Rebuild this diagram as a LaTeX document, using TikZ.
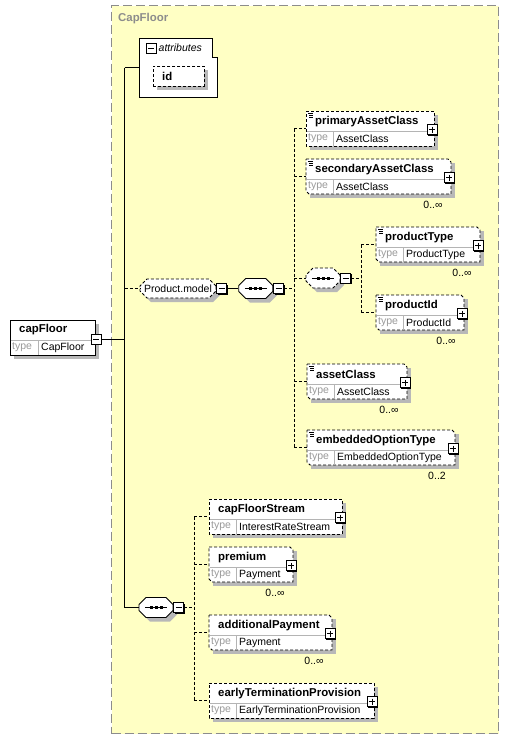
\documentclass[tikz,border=0pt]{standalone}
\usepackage{fontspec}
\setmainfont{Liberation Sans}
\usetikzlibrary{positioning,shapes.misc}

\definecolor{xs-gelb}{HTML}{FFFFC4}
\definecolor{xs-rahmen}{HTML}{8C8C8C}
\definecolor{xs-schatten}{HTML}{B8B8B8}
\definecolor{xs-grau}{HTML}{9A9A9A}
\definecolor{xs-linie}{HTML}{B4B4B4}

\newcommand{\unbeschr}{0..∞}
\newcommand{\zweimal}{0..2}
\newcommand{\folgeinhalt}{\rule{27pt}{0pt}\rule{0pt}{13pt}}
\def\keins{-}

\tikzset{
    strich/.style={dash pattern=on 3pt off 2pt, line width=0.8pt},
    schatten/.style={preaction={fill=xs-schatten, draw=none, transform canvas={shift={(4pt,-4pt)}}}},
    knopf/.style={draw, solid, fill=white, line width=1pt, minimum size=10pt, inner sep=0pt,
        preaction={fill=black, draw=none, transform canvas={shift={(1pt,-1pt)}}}},
    minus/.style={knopf, path picture={
        \draw[solid, black, line width=0.7pt] ([xshift=2pt]path picture bounding box.west) -- ([xshift=-2pt]path picture bounding box.east);}},
    plus/.style={knopf, path picture={
        \draw[solid, black, line width=0.7pt] ([xshift=2pt]path picture bounding box.west) -- ([xshift=-2pt]path picture bounding box.east)
            ([yshift=-2pt]path picture bounding box.north) -- ([yshift=2pt]path picture bounding box.south);}},
    achteck/.style={chamfered rectangle, chamfered rectangle xsep=3.5pt, chamfered rectangle ysep=3.5pt,
        draw, fill=white, schatten, inner sep=0pt, line width=0.8pt},
    folge/.style={achteck, path picture={
        \draw[solid, black, line width=0.8pt] ([xshift=-11pt]path picture bounding box.center) -- ([xshift=11pt]path picture bounding box.center);
        \foreach \d in {-5,0,5}
            \fill[black] ([xshift=\d pt]path picture bounding box.center) ++(-1.5pt,-1.5pt) rectangle ++(3pt,3pt);}},
    titel/.style={font=\fontsize{11.4}{13}\selectfont\bfseries, inner sep=0pt, anchor=west},
    typ/.style={text=xs-grau, inner sep=0pt, anchor=west},
    wert/.style={inner sep=0pt, anchor=west},
}

\begin{document}
\begin{tikzpicture}[x=1pt, y=-1pt, font=\fontsize{10.5}{12}\selectfont]
\useasboundingbox (0,0) rectangle (508,739);

% Gruppe CapFloor
\node (grp) [draw=xs-rahmen, fill=xs-gelb, dash pattern=on 9pt off 4pt, line width=1pt, anchor=north west,
    minimum width=387pt, minimum height=728pt, inner sep=0pt] at (111,5) {};
\node (grp-t) [titel, text=xs-rahmen] at (118,19) {CapFloor};

% Wurzelelement
\node (cf) [draw, fill=white, schatten, anchor=north west, minimum width=85pt, minimum height=35pt,
    inner sep=0pt, line width=0.8pt] at (10,320) {};
\draw[xs-linie] (10.5,340) -- (94.5,340) (38,340) -- (38,354.5);
\node (cf-t) [titel] at (19,330) {capFloor};
\node (cf-y) [typ] at (12,347.5) {type};
\node (cf-w) [wert] at (41,347.5) {CapFloor};
\node (cfk) [minus] at (96,339) {};

% Attribute
\draw[fill=white, line width=0.8pt] (139,38) -- (212,38) -- (212,57) -- (217,57) -- (217,97) -- (139,97) -- cycle;
\node (attr) [anchor=north west, minimum width=78pt, minimum height=59pt, inner sep=0pt] at (139,38) {};
\node (attrk) [minus] at (151,48) {};
\node (attr-t) [wert, font=\fontsize{10.5}{12}\selectfont\itshape, right=2pt of attrk] {attributes};
\node (id) [draw, strich, fill=white, schatten, anchor=north west, minimum width=51pt, minimum height=20pt,
    inner sep=0pt] at (153,66) {};
\node (id-t) [titel] at (162,76) {id};

% Modellgruppe und Sequenzen
\node (pm) [achteck, strich, minimum width=76pt, minimum height=19pt] at (178,288.5) {Product.model};
\node (pmk) [minus, right=0pt of pm] {};
\node (seq) [folge, right=11pt of pmk] {\folgeinhalt};
\node (seqk) [minus, right=0pt of seq] {};
\node (iseq) [folge, strich] at (323,278) {\folgeinhalt};
\node (iseqk) [minus, right=0pt of iseq] {};
\node (bseq) [folge] at (156,607.5) {\folgeinhalt};
\node (bseqk) [minus, right=0pt of bseq] {};

% Elemente
\foreach \nm/\xa/\ya/\xb/\titel/\typname/\mult/\icon in {
    pac/306/111/434/primaryAssetClass/AssetClass/-/1,
    sac/306/159/451/secondaryAssetClass/AssetClass/\unbeschr/1,
    ptyp/376/227/480/productType/ProductType/\unbeschr/1,
    pid/376/295/464/productId/ProductId/\unbeschr/1,
    acl/307/364/407/assetClass/AssetClass/\unbeschr/1,
    emb/307/430/455/embeddedOptionType/EmbeddedOptionType/\zweimal/1,
    cfs/209/499/342/capFloorStream/InterestRateStream/-/0,
    prem/209/547/293/premium/Payment/\unbeschr/0,
    addp/209/615/332/additionalPayment/Payment/\unbeschr/0,
    etp/209/683/374/earlyTerminationProvision/EarlyTerminationProvision/-/0} {
    \pgfmathsetmacro{\yb}{\ya+35}
    \pgfmathsetmacro{\yd}{\ya+20}
    \pgfmathsetmacro{\w}{\xb-\xa}
    \ifx\mult\keins \def\ek{0}\else \def\ek{3}\fi
    
    % Schatten und Kasten
    \fill[xs-schatten] (\xa+4,\ya+4) rectangle (\xb+4,\yb+4);
    \draw[strich, fill=white] (\xa,\ya) -- (\xb-\ek,\ya) -- (\xb,\ya+\ek) -- (\xb,\yb)
        -- (\xa+\ek,\yb) -- (\xa,\yb-\ek) -- cycle;
    \draw[xs-linie] (\xa+0.5,\yd) -- (\xb-0.5,\yd) (\xa+27,\yd) -- (\xa+27,\yb-0.5);
    \node (\nm) [anchor=north west, minimum width=\w pt, minimum height=35pt, inner sep=0pt] at (\xa,\ya) {};
    
    \node (\nm-t) [titel] at (\xa+9,\ya+10.5) {\titel};
    \node (\nm-y) [typ] at (\xa+2,\ya+27.5) {type};
    \node (\nm-w) [wert] at (\xa+30,\ya+27.5) {\typname};
    \node (\nm-p) [plus] at (\xb-2,\ya+18.5) {};
    \ifnum\icon=1
        \draw[line width=0.6pt] (\xa+2,\ya+2) -- (\xa+7,\ya+2) (\xa+3,\ya+4) -- (\xa+7,\ya+4) (\xa+3,\ya+6) -- (\xa+7,\ya+6);
    \fi
    \ifx\mult\keins\else
        \node (\nm-m) [inner sep=0pt] at (\xb-18,\yb+11) {\mult};
    \fi
}

% Verbindungen
\coordinate (stamm) at ([xshift=23pt]cfk.east);
\draw[line width=0.8pt] (cfk.east) -- (stamm);
\draw[line width=0.8pt] (stamm |- attr.west) -- (stamm |- bseq.west);
\draw[line width=0.8pt] (stamm |- attr.west) -- (attr.west);
\draw[line width=0.8pt] (stamm |- bseq.west) -- (bseq.west);
\draw[strich] (stamm |- pm.west) -- (pm.west);
\draw[line width=0.8pt] (pmk.east) -- (seq.west);

\coordinate (bus1) at ([xshift=10pt]seqk.east);
\draw[strich] (seqk.east) -- (bus1);
\draw[strich] (bus1 |- pac.west) -- (bus1 |- emb.west);
\foreach \k in {pac,sac,iseq,acl,emb}
    \draw[strich] (bus1 |- \k.west) -- (\k.west);

\coordinate (bus2) at ([xshift=10pt]iseqk.east);
\draw[strich] (iseqk.east) -- (bus2);
\draw[strich] (bus2 |- ptyp.west) -- (bus2 |- pid.west);
\foreach \k in {ptyp,pid}
    \draw[strich] (bus2 |- \k.west) -- (\k.west);

\coordinate (bus3) at ([xshift=10pt]bseqk.east);
\draw[strich] (bseqk.east) -- (bus3);
\draw[strich] (bus3 |- cfs.west) -- (bus3 |- etp.west);
\foreach \k in {cfs,prem,addp,etp}
    \draw[strich] (bus3 |- \k.west) -- (\k.west);

\end{tikzpicture}
\end{document}
